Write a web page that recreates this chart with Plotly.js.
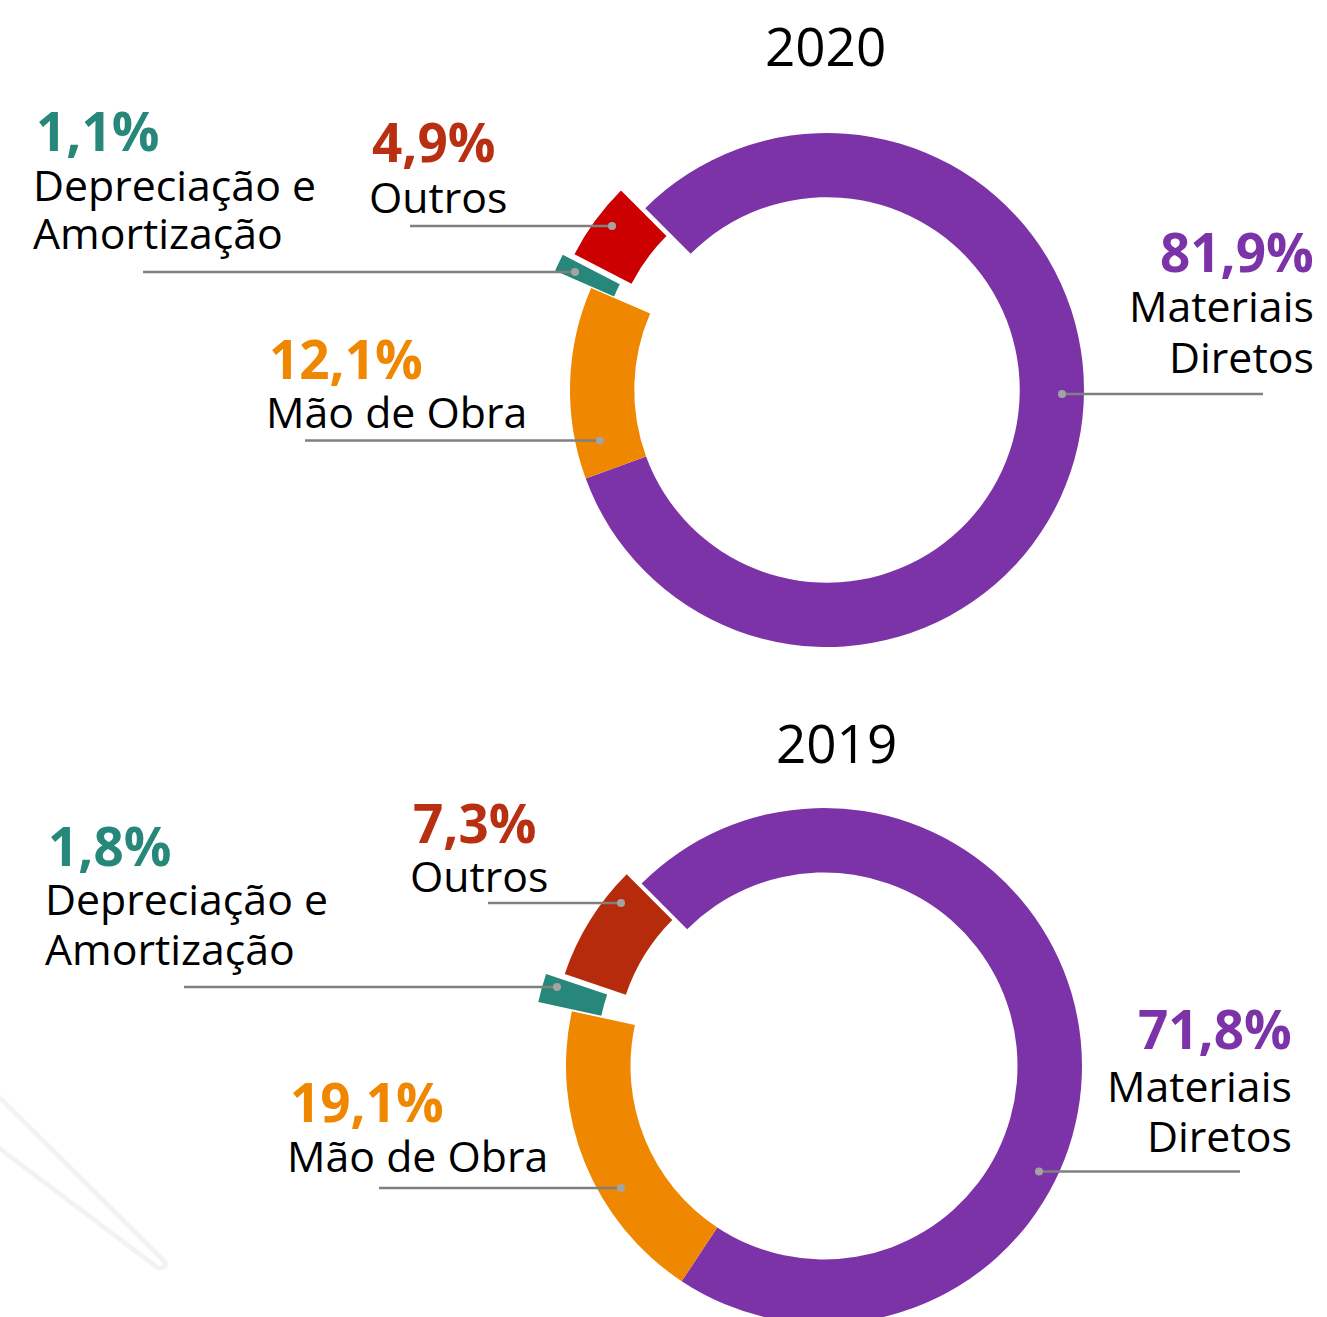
<!DOCTYPE html>
<html><head><meta charset="utf-8">
<script src="https://cdn.plot.ly/plotly-3.0.1.min.js"></script>
<style>
html,body{margin:0;padding:0;background:#fff;overflow:hidden}
#wrap{width:1327px;height:1317px;overflow:hidden;position:relative}
#chart{width:1327px;height:1400px}
</style></head>
<body><div id="wrap"><div id="chart"></div></div>
<script>
// ---------- data ----------
const years = ['2020', '2019'];
const categories = ['Materiais Diretos', 'Mão de Obra', 'Depreciação e Amortização', 'Outros'];
const categoryLines = [['Materiais', 'Diretos'], ['Mão de Obra'], ['Depreciação e', 'Amortização'], ['Outros']];
const values2020 = [81.9, 12.1, 1.1, 4.9];
const values2019 = [71.8, 19.1, 1.8, 7.3];

// ---------- styles / layout ----------
const W = 1327, H = 1400;
const FONT = '"Open Sans", "Noto Sans", sans-serif';
const purple = '#7D33A8', orange = '#F08700', teal = '#26877A', redText = '#B83011';
const sliceColors2020 = [purple, orange, teal, '#CC0000'];
const sliceColors2019 = [purple, orange, teal, '#B52B0C'];
const textColors = [purple, orange, teal, redText];
const PCT_SIZE = 53, NAME_SIZE = 42.8, TITLE_SIZE = 53;
const PCT_DX_LEFT = 3;

const pies = [
  { year: years[0], values: values2020, colors: sliceColors2020, cx: 827, cy: 390, r: 257,
    pull: [0, 0, 0.155, 0.117], titleX: 825, titleBase: 66,
    labels: [
      { x: 1315, anchor: 'right', pct: 272, lines: [322, 373], lead: [1062, 1263, 394], dot: 0 },
      { x: 265, anchor: 'left', pct: 379, lines: [428], lead: [305, 600, 440.5], dot: 1 },
      { x: 32, anchor: 'left', pct: 151, lines: [201, 249], lead: [143, 575, 272], dot: 1 },
      { x: 368, anchor: 'left', pct: 162, lines: [213], lead: [410, 612, 226], dot: 1 }
    ] },
  { year: years[1], values: values2019, colors: sliceColors2019, cx: 824, cy: 1066, r: 258,
    pull: [0, 0, 0.135, 0.068], titleX: 836, titleBase: 763,
    labels: [
      { x: 1293, anchor: 'right', pct: 1049, lines: [1102, 1152], lead: [1039, 1240, 1171.5], dot: 0 },
      { x: 286, anchor: 'left', pct: 1122, lines: [1172], lead: [379, 621, 1188], dot: 1 },
      { x: 44, anchor: 'left', pct: 866, lines: [915, 965], lead: [184, 557, 987], dot: 1 },
      { x: 409, anchor: 'left', pct: 843, lines: [892], lead: [488, 621, 903], dot: 1 }
    ] }
];

const px = x => x / W;
const py = y => 1 - y / H;
const fmt = v => v.toFixed(1).replace('.', ',') + '%';

const traces = [];
const annotations = [];
const shapes = [];

// faint decorative background stroke
shapes.push({ type: 'path', layer: 'below', xref: 'paper', yref: 'paper',
  path: `M ${px(-5)} ${py(1093)} L ${px(162)} ${py(1259)} Q ${px(170)} ${py(1268)} ${px(158)} ${py(1268)} L ${px(-5)} ${py(1145)}`,
  line: { color: '#f3f3f3', width: 5 } });

pies.forEach(p => {
  const maxPull = Math.max(...p.pull);
  const half = p.r * (1 + maxPull);
  traces.push({
    type: 'pie', labels: categories, values: p.values, sort: false,
    direction: 'clockwise', rotation: -45, hole: 0.75, pull: p.pull,
    marker: { colors: p.colors, line: { width: 0 } },
    textinfo: 'none', hoverinfo: 'label+percent', showlegend: false,
    domain: { x: [px(p.cx - half), px(p.cx + half)], y: [py(p.cy + half), py(p.cy - half)] }
  });
  annotations.push({ xref: 'paper', yref: 'paper', x: px(p.titleX), y: py(p.titleBase - 0.388 * TITLE_SIZE),
    xanchor: 'center', yanchor: 'middle', showarrow: false, borderpad: 0, text: p.year,
    font: { family: FONT, size: TITLE_SIZE, color: '#000' } });
  p.labels.forEach((L, i) => {
    const pdx = L.anchor === 'left' ? PCT_DX_LEFT : 0;
    annotations.push({ xref: 'paper', yref: 'paper', x: px(L.x + pdx), y: py(L.pct - 0.388 * PCT_SIZE),
      xanchor: L.anchor, yanchor: 'middle', showarrow: false, borderpad: 0,
      text: '<b>' + fmt(p.values[i]) + '</b>',
      font: { family: FONT, size: PCT_SIZE, color: textColors[i], weight: 700 } });
    categoryLines[i].forEach((t, k) => {
      annotations.push({ xref: 'paper', yref: 'paper', x: px(L.x), y: py(L.lines[k] - 0.388 * NAME_SIZE),
        xanchor: L.anchor, yanchor: 'middle', showarrow: false, borderpad: 0, text: t,
        font: { family: FONT, size: NAME_SIZE, color: '#000' } });
    });
    const [a, b, y] = L.lead;
    shapes.push({ type: 'line', xref: 'paper', yref: 'paper', x0: px(a), x1: px(b), y0: py(y), y1: py(y),
      line: { color: '#808080', width: 2.5 } });
    const dx = L.dot === 0 ? a : b;
    shapes.push({ type: 'circle', xref: 'paper', yref: 'paper', x0: px(dx - 4), x1: px(dx + 4),
      y0: py(y + 4), y1: py(y - 4), fillcolor: '#a3a3a3', line: { width: 0 } });
  });
});

Plotly.newPlot('chart', traces, {
  width: W, height: H, margin: { l: 0, r: 0, t: 0, b: 0, pad: 0 },
  paper_bgcolor: '#fff', plot_bgcolor: '#fff', showlegend: false,
  annotations, shapes
}, { staticPlot: true, displayModeBar: false });
</script>
</body></html>
